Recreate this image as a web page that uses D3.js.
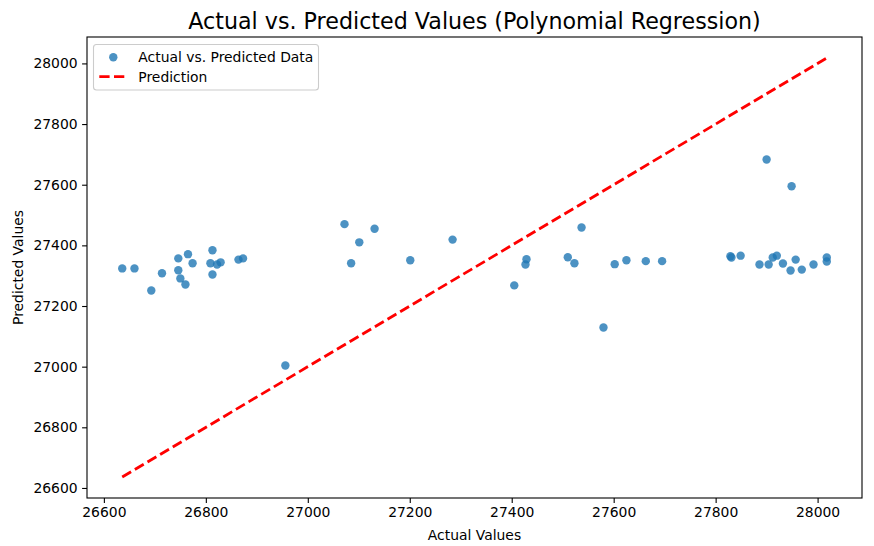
<!DOCTYPE html>
<html>
<head>
<meta charset="utf-8">
<script src="https://cdn.jsdelivr.net/npm/d3@7"></script>
<style>
  body { margin: 0; background: #fff; }
  svg { display: block; font-family: "DejaVu Sans", sans-serif; }
</style>
</head>
<body>
<svg id="svg"></svg>
<script>
// values
const actual = [
  26636, 26660, 26693, 26714, 26746, 26765, 26746, 26750, 26760, 26774,
  26813, 26809, 26813, 26822, 26829, 26864, 26873,
  26956, 27072, 27131, 27101, 27085, 27201, 27284,
  27537, 27429, 27427, 27405, 27510, 27523, 27602, 27625, 27663, 27695, 27580,
  27900, 27949, 27829, 27831, 27849, 27886, 27904, 27912, 27920, 27932,
  27957, 27947, 27969, 27992, 28018, 28018
];
const predicted = [
  27324, 27324, 27251, 27308, 27357, 27371, 27318, 27291, 27271, 27341,
  27384, 27341, 27304, 27337, 27344, 27353, 27357,
  27004, 27470, 27455, 27410, 27341, 27351, 27419,
  27459, 27354, 27337, 27268, 27361, 27341, 27338, 27351, 27348, 27348, 27129,
  27683, 27595, 27364, 27360, 27366, 27337, 27337, 27360, 27366, 27340,
  27353, 27317, 27320, 27337, 27360, 27347
];
const xTicks = [26600, 26800, 27000, 27200, 27400, 27600, 27800, 28000];
const yTicks = [26600, 26800, 27000, 27200, 27400, 27600, 27800, 28000];

const width = 874;
const height = 546;
const margin = { top: 37, right: 12, bottom: 48, left: 87 };

const svg = d3.select('#svg')
  .attr('width', width)
  .attr('height', height);

// prediction line runs over the range of actual values
const lineLo = d3.min(actual);
const lineHi = d3.max(actual);

// matplotlib-like 5% padding
const pad = (lo, hi) => [lo - (hi - lo) * 0.05, hi + (hi - lo) * 0.05];
const xExt = d3.extent(actual.concat([lineLo, lineHi]));
const yExt = d3.extent(predicted.concat([lineLo, lineHi]));

const x = d3.scaleLinear()
  .domain(pad(xExt[0], xExt[1]))
  .range([margin.left, width - margin.right]);
const y = d3.scaleLinear()
  .domain(pad(yExt[0], yExt[1]))
  .range([height - margin.bottom, margin.top]);

const fmt = d3.format('d');

// axes
const xAxis = svg.append('g')
  .attr('transform', `translate(0,${height - margin.bottom})`)
  .call(d3.axisBottom(x).tickValues(xTicks).tickFormat(fmt).tickSize(4.9).tickPadding(4.5).tickSizeOuter(0));
const yAxis = svg.append('g')
  .attr('transform', `translate(${margin.left},0)`)
  .call(d3.axisLeft(y).tickValues(yTicks).tickFormat(fmt).tickSize(4.9).tickPadding(4.5).tickSizeOuter(0));

[xAxis, yAxis].forEach(a => {
  a.select('.domain').remove();
  a.selectAll('line').attr('stroke', '#000').attr('stroke-width', 1.1);
  a.selectAll('text').attr('font-size', 13.9).attr('fill', '#000')
    .attr('font-family', '"DejaVu Sans", sans-serif');
});

// points
svg.append('g').selectAll('circle')
  .data(actual.map((a, i) => [a, predicted[i]]))
  .enter().append('circle')
  .attr('cx', d => x(d[0]))
  .attr('cy', d => y(d[1]))
  .attr('r', 4.2)
  .attr('fill', '#1f77b4')
  .attr('fill-opacity', 0.8);

// prediction line
svg.append('line')
  .attr('x1', x(lineLo)).attr('y1', y(lineLo))
  .attr('x2', x(lineHi)).attr('y2', y(lineHi))
  .attr('stroke', '#ff0000')
  .attr('stroke-width', 2.8)
  .attr('stroke-dasharray', '10.3,4.4');

// frame
svg.append('rect')
  .attr('x', margin.left)
  .attr('y', margin.top)
  .attr('width', width - margin.left - margin.right)
  .attr('height', height - margin.top - margin.bottom)
  .attr('fill', 'none')
  .attr('stroke', '#000')
  .attr('stroke-width', 1.1);

// title and labels
const cx = (margin.left + width - margin.right) / 2;
svg.append('text')
  .attr('x', cx).attr('y', 29)
  .attr('text-anchor', 'middle')
  .attr('font-size', 22.2)
  .text('Actual vs. Predicted Values (Polynomial Regression)');
svg.append('text')
  .attr('x', cx).attr('y', 540)
  .attr('text-anchor', 'middle')
  .attr('font-size', 13.9)
  .text('Actual Values');
svg.append('text')
  .attr('transform', `translate(23,${(margin.top + height - margin.bottom) / 2}) rotate(-90)`)
  .attr('text-anchor', 'middle')
  .attr('font-size', 13.9)
  .text('Predicted Values');

// legend
const legend = svg.append('g');
legend.append('rect')
  .attr('x', 93.5).attr('y', 44.5)
  .attr('width', 225).attr('height', 45.5)
  .attr('rx', 3)
  .attr('fill', '#fff').attr('fill-opacity', 0.8)
  .attr('stroke', '#cccccc').attr('stroke-width', 1.1);
legend.append('circle')
  .attr('cx', 113.3).attr('cy', 57.3).attr('r', 4.2)
  .attr('fill', '#1f77b4').attr('fill-opacity', 0.8);
legend.append('line')
  .attr('x1', 99.3).attr('y1', 76.7).attr('x2', 127).attr('y2', 76.7)
  .attr('stroke', '#ff0000').attr('stroke-width', 2.8)
  .attr('stroke-dasharray', '10.3,4.4');
legend.append('text')
  .attr('x', 138.3).attr('y', 57.3).attr('dy', '0.35em')
  .attr('font-size', 13.9)
  .text('Actual vs. Predicted Data');
legend.append('text')
  .attr('x', 138.3).attr('y', 77).attr('dy', '0.35em')
  .attr('font-size', 13.9)
  .text('Prediction');
</script>
</body>
</html>
